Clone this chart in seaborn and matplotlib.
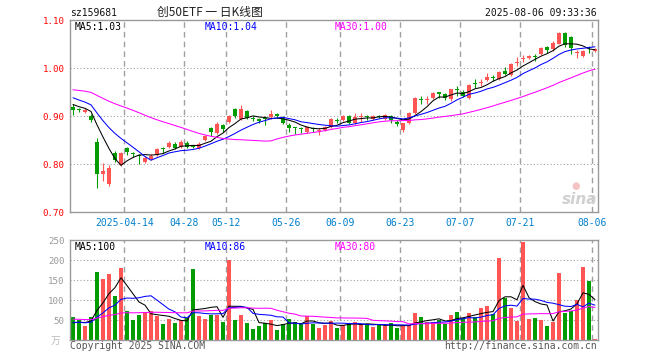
import matplotlib
matplotlib.use("Agg")
import matplotlib.pyplot as plt
import numpy as np
import pandas as pd
import seaborn as sns

# ── data for sz159681 ─────────────────────────────────────────────────────────

DATES = (
    ["2025-03-31"]
    + [f"2025-04-{d:02d}" for d in (1, 2, 3, 7, 8, 9, 10, 11, 14, 15, 16, 17, 18,
                                    21, 22, 23, 24, 25, 28, 29, 30)]
    + [f"2025-05-{d:02d}" for d in (6, 7, 8, 9, 12, 13, 14, 15, 16, 19, 20, 21, 22,
                                    23, 26, 27, 28, 29, 30)]
    + [f"2025-06-{d:02d}" for d in (3, 4, 5, 6, 9, 10, 11, 12, 13, 16, 17, 18, 19,
                                    20, 23, 24, 25, 26, 27, 30)]
    + [f"2025-07-{d:02d}" for d in (1, 2, 3, 4, 7, 8, 9, 10, 11, 14, 15, 16, 17, 18,
                                    21, 22, 23, 24, 25, 28, 29, 30, 31)]
    + [f"2025-08-{d:02d}" for d in (1, 4, 5, 6)]
)

OPEN = [0.919, 0.913, 0.909, 0.900, 0.846, 0.779, 0.758, 0.822, 0.798, 0.833,
        0.821, 0.818, 0.805, 0.810, 0.819, 0.832, 0.836, 0.841, 0.835, 0.844,
        0.837, 0.833, 0.849, 0.874, 0.865, 0.881, 0.888, 0.915, 0.894, 0.911,
        0.894, 0.893, 0.894, 0.897, 0.904, 0.896, 0.881, 0.875, 0.874, 0.867,
        0.874, 0.868, 0.871, 0.878, 0.891, 0.892, 0.900, 0.885, 0.898, 0.899,
        0.893, 0.900, 0.894, 0.900, 0.888, 0.871, 0.885, 0.906, 0.935, 0.933,
        0.937, 0.949, 0.945, 0.935, 0.955, 0.951, 0.938, 0.967, 0.968, 0.974,
        0.980, 0.977, 0.994, 0.985, 1.011, 1.019, 1.020, 1.025, 1.029, 1.043,
        1.039, 1.051, 1.072, 1.064, 1.032, 1.024, 1.042, 1.035]
HIGH = [0.924, 0.917, 0.916, 0.904, 0.854, 0.802, 0.797, 0.828, 0.826, 0.835,
        0.824, 0.820, 0.817, 0.820, 0.834, 0.835, 0.848, 0.845, 0.849, 0.847,
        0.840, 0.845, 0.861, 0.877, 0.888, 0.883, 0.903, 0.917, 0.923, 0.913,
        0.900, 0.896, 0.900, 0.912, 0.906, 0.900, 0.885, 0.878, 0.877, 0.880,
        0.877, 0.875, 0.880, 0.895, 0.895, 0.903, 0.902, 0.906, 0.907, 0.902,
        0.902, 0.903, 0.904, 0.902, 0.892, 0.886, 0.908, 0.940, 0.942, 0.942,
        0.949, 0.951, 0.947, 0.957, 0.962, 0.954, 0.967, 0.977, 0.978, 0.990,
        0.985, 0.994, 1.002, 1.010, 1.022, 1.027, 1.028, 1.030, 1.043, 1.046,
        1.056, 1.074, 1.075, 1.066, 1.037, 1.037, 1.046, 1.041]
LOW = [0.902, 0.908, 0.906, 0.888, 0.749, 0.765, 0.755, 0.805, 0.795, 0.819,
       0.815, 0.799, 0.802, 0.808, 0.817, 0.822, 0.833, 0.831, 0.833, 0.833,
       0.833, 0.831, 0.847, 0.858, 0.862, 0.867, 0.886, 0.895, 0.892, 0.893,
       0.889, 0.885, 0.881, 0.894, 0.896, 0.884, 0.867, 0.863, 0.865, 0.865,
       0.866, 0.861, 0.869, 0.876, 0.886, 0.890, 0.884, 0.883, 0.888, 0.892,
       0.891, 0.895, 0.892, 0.886, 0.879, 0.867, 0.883, 0.905, 0.926, 0.926,
       0.935, 0.937, 0.933, 0.932, 0.941, 0.940, 0.936, 0.958, 0.962, 0.972,
       0.972, 0.975, 0.985, 0.983, 1.004, 1.012, 1.018, 1.015, 1.027, 1.032,
       1.036, 1.049, 1.043, 1.030, 1.020, 1.022, 1.031, 1.033]
CLOSE = [0.912, 0.912, 0.913, 0.892, 0.779, 0.785, 0.792, 0.808, 0.822, 0.826,
         0.820, 0.817, 0.813, 0.817, 0.831, 0.831, 0.844, 0.834, 0.845, 0.835,
         0.836, 0.842, 0.858, 0.866, 0.883, 0.873, 0.900, 0.899, 0.914, 0.895,
         0.893, 0.889, 0.893, 0.904, 0.899, 0.886, 0.874, 0.874, 0.873, 0.878,
         0.872, 0.870, 0.878, 0.893, 0.890, 0.900, 0.886, 0.898, 0.899, 0.897,
         0.900, 0.898, 0.902, 0.892, 0.883, 0.885, 0.906, 0.938, 0.934, 0.934,
         0.947, 0.945, 0.937, 0.956, 0.954, 0.942, 0.965, 0.966, 0.970, 0.982,
         0.979, 0.992, 0.988, 1.008, 1.012, 1.021, 1.026, 1.023, 1.041, 1.038,
         1.053, 1.072, 1.048, 1.041, 1.034, 1.035, 1.041, 1.039]
# volume in 万 (10k shares)
VOLUME = [57.5, 50, 35, 57.5, 170, 152.5, 165, 110, 180, 72.5,
          50, 63, 70, 72.5, 61, 40, 52.5, 42.5, 49, 55,
          177.5, 60, 52.5, 63, 63, 45, 200, 50, 62.5, 42.5,
          27.5, 35, 42.5, 50, 25, 40, 52.5, 45, 40, 60,
          40, 30, 37.5, 47.5, 30, 37.5, 42.5, 45, 37.5, 40,
          32.5, 37.5, 35, 42.5, 30, 35, 37.5, 67.5, 57.5, 45,
          45, 50, 40, 62.5, 70, 55, 67.5, 57.5, 80, 85,
          65, 205, 105, 80, 47.5, 245, 52.5, 55, 50, 35,
          45, 167.5, 67.5, 72.5, 100, 182.5, 147.5, 2.5]

# sessions before 03-31 are off-chart; estimated so the MA lines start where drawn
PRIOR_CLOSE = [0.955, 0.960, 0.966, 0.970, 0.972, 0.968, 0.965, 0.960, 0.958, 0.962,
               0.966, 0.970, 0.968, 0.963, 0.958, 0.955, 0.957, 0.960, 0.962, 0.965,
               0.960, 0.955, 0.950, 0.948, 0.947, 0.935, 0.930, 0.925, 0.918]
PRIOR_VOLUME = [55, 58, 60, 54, 52, 57, 60, 58, 55, 53,
                56, 58, 57, 55, 54, 56, 58, 57, 55, 52,
                48, 46, 44, 44, 43, 42, 40, 38, 37.5]

TICK_DATES = ["2025-04-14", "2025-04-28", "2025-05-12", "2025-05-26", "2025-06-09",
              "2025-06-23", "2025-07-07", "2025-07-21", "2025-08-06"]
TICK_LABELS = ["2025-04-14", "04-28", "05-12", "05-26", "06-09",
               "06-23", "07-07", "07-21", "08-06"]
PRICE_TICKS = [0.70, 0.80, 0.90, 1.00, 1.10]
VOL_TICKS = [50, 100, 150, 200, 250]

RED = "#ff5555"
GREEN = "#009c00"
MA_COLORS = {5: "#000000", 10: "#0000ff", 30: "#ff00ff"}
GRID = "#a0a0a0"

sns.set_theme(style="white")
plt.rcParams["font.family"] = ["DejaVu Sans Mono", "Noto Sans CJK SC"]

W, H = 660, 360


def fx(x):
    return x / W


def fy(y):
    return 1 - y / H


n = len(DATES)
x = np.arange(n)
df = pd.DataFrame({"x": x, "open": OPEN, "high": HIGH, "low": LOW,
                   "close": CLOSE, "volume": VOLUME})
close_all = pd.Series(PRIOR_CLOSE + CLOSE)
vol_all = pd.Series(PRIOR_VOLUME + VOLUME)
k = len(PRIOR_CLOSE)
for w in (5, 10, 30):
    df[f"ma{w}"] = close_all.rolling(w).mean().iloc[k:].to_numpy()
    df[f"vma{w}"] = vol_all.rolling(w).mean().iloc[k:].to_numpy()

colors = np.where(df["close"] >= df["open"], RED, GREEN)
tick_pos = [DATES.index(d) - 0.45 for d in TICK_DATES]

fig = plt.figure(figsize=(W / 100, H / 100), dpi=100)
ax = fig.add_axes([fx(70), fy(212), fx(528), 192 / H])
axv = fig.add_axes([fx(70), fy(340), fx(528), 100 / H])

# ── price panel ───────────────────────────────────────────────────────────────
for t in tick_pos:
    ax.axvline(t, color=GRID, lw=1, ls=(0, (4, 3)), zorder=0)
    axv.axvline(t, color=GRID, lw=1, ls=(0, (4, 3)), zorder=0)
for p in PRICE_TICKS[1:-1]:
    ax.axhline(p, color=GRID, lw=0.8, ls=(0, (1, 2)), zorder=0)
for v in VOL_TICKS[:-1]:
    axv.axhline(v, color=GRID, lw=0.8, ls=(0, (1, 2)), zorder=0)

ax.vlines(df["x"], df["low"], df["high"], colors=colors, lw=0.8, zorder=2)
body_lo = np.minimum(df["open"], df["close"])
body_h = np.maximum((df["close"] - df["open"]).abs(), 0.0021)
ax.bar(df["x"], body_h, bottom=body_lo, width=0.78, color=colors, lw=0, zorder=3)

for w, c in MA_COLORS.items():
    sns.lineplot(x=df["x"], y=df[f"ma{w}"], ax=ax, color=c, lw=0.75, zorder=4)
    sns.lineplot(x=df["x"], y=df[f"vma{w}"], ax=axv, color=c, lw=0.75, zorder=4)

ax.set_xlim(-0.5, n - 0.5)
ax.set_ylim(PRICE_TICKS[0], PRICE_TICKS[-1])
ax.set_yticks(PRICE_TICKS)
ax.set_yticklabels([f"{p:.2f}" for p in PRICE_TICKS], color="#ff0000")
ax.set_xticks(tick_pos)
ax.set_xticklabels(TICK_LABELS, color="#0080cc")
ax.tick_params(axis="y", length=0, pad=4, labelsize=6.6)
ax.tick_params(axis="x", length=0, pad=4, labelsize=7)
ax.set_xlabel("")
ax.set_ylabel("")

# ── volume panel ──────────────────────────────────────────────────────────────
axv.bar(df["x"], df["volume"], width=0.82, color=colors, lw=0, zorder=2)
axv.set_xlim(-0.5, n - 0.5)
axv.set_ylim(0, 250)
axv.set_yticks(VOL_TICKS)
axv.set_yticklabels([str(v) for v in VOL_TICKS], color="#999999")
axv.set_xticks([])
axv.tick_params(axis="y", length=0, pad=4, labelsize=6.6)
axv.set_xlabel("")
axv.set_ylabel("")

for a in (ax, axv):
    for s in a.spines.values():
        s.set_color("#999999")
        s.set_linewidth(1)

# ── header / labels ───────────────────────────────────────────────────────────
fig.text(fx(70), fy(12.5), "sz159681", fontsize=7, va="center", color="#111111")
fig.text(fx(210), fy(12), "创50ETF 一 日K线图", fontsize=8.5, va="center", ha="center",
         color="#222222", family=["Noto Sans CJK SC", "DejaVu Sans"])
fig.text(fx(597), fy(12.5), "2025-08-06 09:33:36", fontsize=7, va="center", ha="right",
         color="#111111")

fig.text(fx(75), fy(26.5), "MA5:1.03", fontsize=7, va="center", color=MA_COLORS[5])
fig.text(fx(205), fy(26.5), "MA10:1.04", fontsize=7, va="center", color=MA_COLORS[10])
fig.text(fx(335), fy(26.5), "MA30:1.00", fontsize=7, va="center", color=MA_COLORS[30])

fig.text(fx(75), fy(247), "MA5:100", fontsize=7, va="center", color=MA_COLORS[5])
fig.text(fx(205), fy(247), "MA10:86", fontsize=7, va="center", color=MA_COLORS[10])
fig.text(fx(335), fy(247), "MA30:80", fontsize=7, va="center", color=MA_COLORS[30])

fig.text(fx(56), fy(341), "万", fontsize=7, va="center", ha="center", color="#bbbbbb",
         family=["Noto Sans CJK SC", "DejaVu Sans"])
fig.text(fx(70), fy(346), "Copyright 2025 SINA.COM", fontsize=7, va="center",
         color="#555555")
fig.text(fx(597), fy(346), "http://finance.sina.com.cn", fontsize=7, va="center",
         ha="right", color="#555555")

# faint sina watermark
fig.text(fx(580), fy(199), "sina", fontsize=11, fontweight="bold", style="italic",
         ha="center", va="center", color="#d0d0d0", family="DejaVu Sans")
fig.text(fx(576), fy(186), "●", fontsize=7, ha="center", va="center", color="#f4c4c4",
         family="DejaVu Sans")

fig.savefig("out.png", dpi=100)
